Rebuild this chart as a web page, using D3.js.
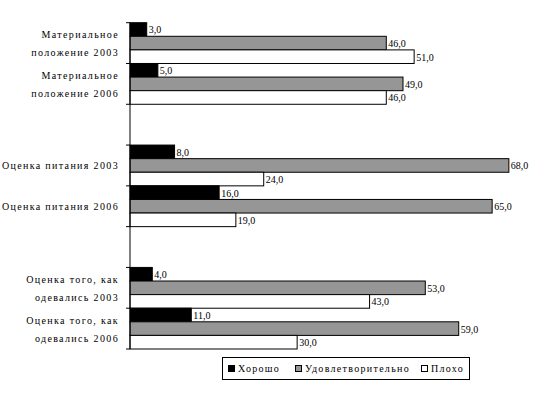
<!DOCTYPE html>
<html>
<head>
<meta charset="utf-8">
<script src="https://cdn.jsdelivr.net/npm/d3@7"></script>
<style>
  body { margin: 0; background: #fff; }
  svg { display: block; }
</style>
</head>
<body>
<script>
// categories top to bottom, [] = empty gap slot
var categories = [
  ["Материальное", "положение 2003"],
  ["Материальное", "положение 2006"],
  [],
  ["Оценка питания 2003"],
  ["Оценка питания 2006"],
  [],
  ["Оценка того, как", "одевались 2003"],
  ["Оценка того, как", "одевались 2006"]
];
var seriesNames = ["Хорошо", "Удовлетворительно", "Плохо"];
var good = [3, 5, null, 8, 16, null, 4, 11];
var fair = [46, 49, null, 68, 65, null, 53, 59];
var poor = [51, 46, null, 24, 19, null, 43, 30];
var colors = ["#000000", "#969696", "#ffffff"];

var w = 536, h = 394;
// note: "top" is taken by window.top, so use other names
var plotLeft = 130, plotRight = 520, plotTop = 22.7, plotBottom = 349;

var svg = d3.select("body").append("svg")
  .attr("width", w)
  .attr("height", h);

var y = d3.scaleBand()
  .domain(d3.range(categories.length))
  .range([plotTop, plotBottom])
  .padding(0);

var ySeries = d3.scaleBand()
  .domain(d3.range(seriesNames.length))
  .range([0, y.bandwidth()])
  .padding(0);

var x = d3.scaleLinear()
  .domain([0, 70])
  .range([plotLeft, plotRight]);

var fmt = function(v) { return d3.format(".1f")(v).replace(".", ","); };

var values = [good, fair, poor];
var rows = [];
categories.forEach(function(c, i) {
  values.forEach(function(s, j) {
    if (s[i] != null) rows.push({cat: i, series: j, value: s[i]});
  });
});

var bars = svg.append("g");
bars.selectAll("rect")
  .data(rows)
  .enter()
  .append("rect")
  .attr("x", x(0))
  .attr("y", function(d) { return y(d.cat) + ySeries(d.series); })
  .attr("width", function(d) { return x(d.value) - x(0); })
  .attr("height", ySeries.bandwidth())
  .attr("fill", function(d) { return colors[d.series]; })
  .attr("stroke", "#000")
  .attr("stroke-width", 1);

// value labels
svg.append("g").selectAll("text")
  .data(rows)
  .enter()
  .append("text")
  .text(function(d) { return fmt(d.value); })
  .attr("x", function(d) { return x(d.value) + 2; })
  .attr("y", function(d) { return y(d.cat) + ySeries(d.series) + ySeries.bandwidth() / 2 + 4; })
  .attr("font-family", "Liberation Serif, serif")
  .attr("font-size", 10)
  .attr("fill", "#000");

// category axis
var axis = svg.append("g");
axis.append("line")
  .attr("x1", plotLeft).attr("x2", plotLeft)
  .attr("y1", plotTop).attr("y2", plotBottom)
  .attr("stroke", "#000");
axis.selectAll("line.tick")
  .data(d3.range(categories.length + 1))
  .enter()
  .append("line")
  .attr("class", "tick")
  .attr("x1", plotLeft - 4).attr("x2", plotLeft)
  .attr("y1", function(i) { return plotTop + i * y.step(); })
  .attr("y2", function(i) { return plotTop + i * y.step(); })
  .attr("stroke", "#000");

var labels = axis.selectAll("text.cat")
  .data(categories)
  .enter()
  .append("text")
  .attr("class", "cat")
  .attr("font-family", "Liberation Serif, serif")
  .attr("font-size", 10)
  .attr("letter-spacing", 1.35)
  .attr("text-anchor", "end")
  .attr("fill", "#000");

labels.each(function(lines, i) {
  var cy = y(i) + y.bandwidth() / 2;
  var t = d3.select(this);
  lines.forEach(function(line, k) {
    t.append("tspan")
      .attr("x", 119)
      .attr("y", cy + 4 + (k - (lines.length - 1) / 2) * 18)
      .text(line);
  });
});

// legend
var legend = svg.append("g");
legend.append("rect")
  .attr("x", 222.5).attr("y", 357.5)
  .attr("width", 247).attr("height", 22)
  .attr("fill", "#fff")
  .attr("stroke", "#000");

var legendX = [228, 295, 421];
seriesNames.forEach(function(name, j) {
  legend.append("rect")
    .attr("x", legendX[j] + 0.5).attr("y", 365.5)
    .attr("width", 6).attr("height", 6)
    .attr("fill", colors[j])
    .attr("stroke", "#000");
  legend.append("text")
    .attr("x", legendX[j] + 10)
    .attr("y", 372)
    .attr("font-family", "Liberation Serif, serif")
    .attr("font-size", 10)
    .attr("letter-spacing", 1.3)
    .text(name);
});
</script>
</body>
</html>
